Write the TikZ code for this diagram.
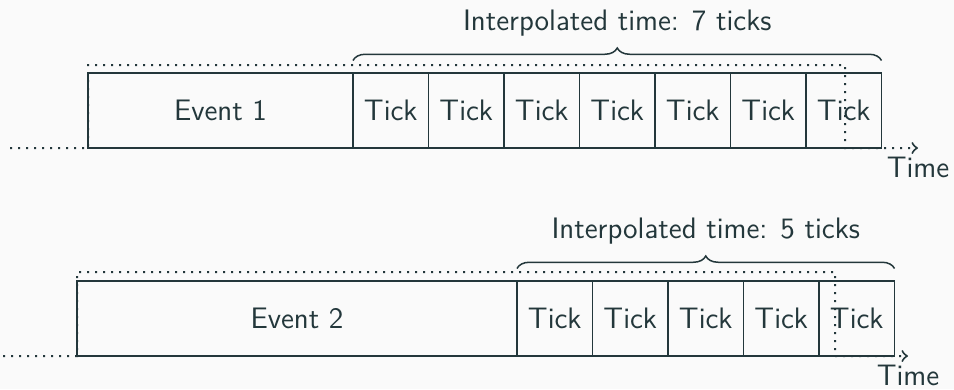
\documentclass[tikz,border=0pt]{standalone}
\usetikzlibrary{positioning,decorations.pathreplacing,arrows}
\definecolor{fg}{HTML}{23373B}
\definecolor{bg}{HTML}{FAFAFA}
\begin{document}
\begin{tikzpicture}[x=0.4pt, y=-0.4pt,
  font=\sffamily\fontsize{11.85}{14}\selectfont, color=fg, line width=0.6pt,
  box/.style={draw, inner sep=0pt, outer sep=0pt, minimum height=30pt},
  tickbox/.style={box, minimum width=30.2pt},
  timeline/.style={dash pattern=on 0.8pt off 2.4pt, line width=0.8pt},
  bracket/.style={decorate, decoration={brace, amplitude=5pt}}]

  \path[use as bounding box, fill=bg] (0,0) rectangle (954,389);

  % first run: 7 ticks
  \node[box, minimum width=106pt, anchor=north west] (ev1) at (88,73) {Event 1};
  \node[tickbox, right=0pt of ev1] (a1) {Tick};
  \foreach \i [count=\j from 2] in {1,...,6}
    \node[tickbox, right=0pt of a\i] (a\j) {Tick};
  \coordinate (s1) at (10,148);
  \coordinate (c1) at (845,65);
  \coordinate (e1) at (918,148);
  \draw[timeline,->] (s1) -- (ev1.south west) -- (ev1.south west |- c1) -- (c1)
    -- (c1 |- ev1.south) -- (e1) node[below] {Time};
  \draw[bracket] ([yshift=5pt]a1.north west) -- ([yshift=5pt]a7.north east)
    node[midway, above=6pt] {Interpolated time: 7 ticks};

  % second run: 5 ticks
  \node[box, minimum width=176pt, anchor=north west] (ev2) at (77,281) {Event 2};
  \node[tickbox, right=0pt of ev2] (b1) {Tick};
  \foreach \i [count=\j from 2] in {1,...,4}
    \node[tickbox, right=0pt of b\i] (b\j) {Tick};
  \coordinate (s2) at (3,356);
  \coordinate (c2) at (835,272);
  \coordinate (e2) at (908,356);
  \draw[timeline,->] (s2) -- (ev2.south west) -- (ev2.south west |- c2) -- (c2)
    -- (c2 |- ev2.south) -- (e2) node[below] {Time};
  \draw[bracket] ([yshift=5pt]b1.north west) -- ([yshift=5pt]b5.north east)
    node[midway, above=6pt] {Interpolated time: 5 ticks};

\end{tikzpicture}
\end{document}
